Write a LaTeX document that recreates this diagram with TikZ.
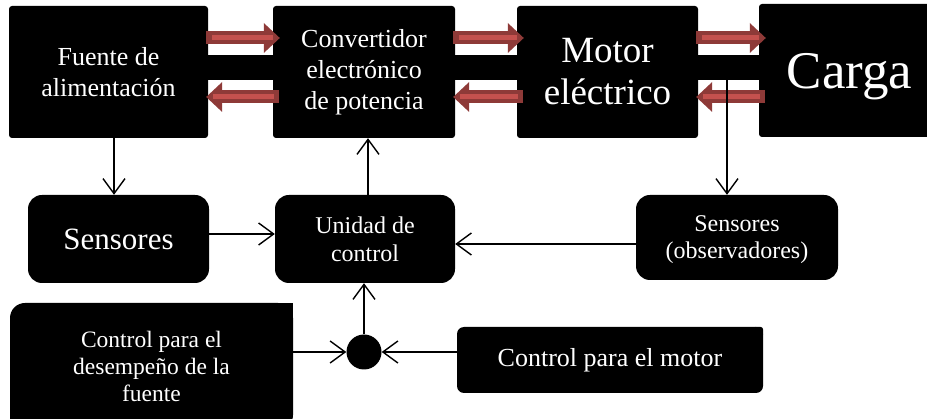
\documentclass[tikz,border=0pt]{standalone}
\usepackage{fontspec}
\setmainfont{Liberation Serif}
\usetikzlibrary{arrows.meta, positioning}
\definecolor{rojooscuro}{HTML}{8E3A38}
\definecolor{rojoclaro}{HTML}{C4514E}

\begin{document}
\begin{tikzpicture}[x=1pt, y=1pt,
        caja/.style 2 args={fill=black, text=white, rounded corners=3pt, align=center,
                    inner sep=0pt, minimum width=#1, minimum height=#2},
        letra/.style 2 args={font=\fontsize{#1}{#2}\selectfont},
        flecha/.style={line width=1.4pt, -{Straight Barb[length=15pt, width=22pt]}},
        cuerpo/.style={line width=13pt, rojooscuro},
        franja/.style={line width=5pt, rojoclaro}
    ]
        \useasboundingbox (0,0) rectangle (927,-419);

        % bloques de potencia
        \node[caja={199pt}{132pt}, letra={26}{31}] (fuente) at (108.5,-72) {Fuente de\\alimentación};
        \node[caja={182pt}{132pt}, letra={26}{31}] (conv)   at (364,-72)   {Convertidor\\electrónico\\de potencia};
        \node[caja={181pt}{132pt}, letra={37}{42}] (motor)  at (607.5,-72) {Motor\\eléctrico};
        \node[caja={181pt}{133pt}, letra={53}{60}, text depth=0pt] (carga) at (849.5,-70.5) {Carga};

        % bloques de control
        \node[caja={181pt}{88pt}, rounded corners=14pt, letra={31}{36}] (sens)   at (118.5,-239) {Sensores};
        \node[caja={180pt}{88pt}, rounded corners=14pt, letra={24}{28}] (unidad) at (365,-239)   {Unidad de\\control};
        \node[caja={202pt}{85pt}, rounded corners=14pt, letra={24}{27}, text depth=0pt] (sensobs) at (737,-237.5) {Sensores\\(observadores)};
        \node[caja={283pt}{127pt}, rounded corners=15pt, letra={23.5}{27}] (desemp) at (151.5,-366.5) {Control para el\\desempeño de la\\fuente};
        \node[caja={306pt}{66pt}, rounded corners=7pt, letra={26}{31}] (motorctl) at (610,-360) {Control para el motor};
        \node[circle, fill=black, minimum size=35pt, inner sep=0pt] (nodo) at (364,-352) {};
        \fill (desemp.north east) rectangle ++(-15,-15);
        \fill (desemp.south west) rectangle ++(15,15);
        \fill[rounded corners=3pt] (motorctl.north east) -- ++(0,-10) -- ++(-10,0) -- ++(0,10) -- cycle;

        % flujo de potencia
        \foreach \a/\b in {fuente/conv, conv/motor, motor/carga} {
            \draw[line width=25pt] ([yshift=4.5pt]\a.east) -- ([yshift=4.5pt]\a.east -| \b.west);
            % hacia la derecha
            \coordinate (ini) at ([yshift=34pt, xshift=-2pt]\a.east);
            \coordinate (fin) at ([xshift=7pt]ini -| \b.west);
            \draw[cuerpo] (ini) -- ([xshift=-15pt]fin);
            \fill[rojooscuro] (fin) -- ++(-16,15) -- ++(0,-30) -- cycle;
            \draw[franja] ([xshift=6pt]ini) -- ([xshift=-7pt]fin);
            % hacia la izquierda
            \coordinate (ini) at ([yshift=-25pt]\a.east -| \b.west);
            \coordinate (ini) at ([xshift=6pt]ini);
            \coordinate (fin) at ([yshift=-25pt, xshift=-2pt]\a.east);
            \draw[cuerpo] (ini) -- ([xshift=15pt]fin);
            \fill[rojooscuro] (fin) -- ++(16,15) -- ++(0,-30) -- cycle;
            \draw[franja] ([xshift=-5pt]ini) -- ([xshift=7pt]fin);
        }

        % senales
        \coordinate (banda) at (727,-80);
        \draw[flecha] ([xshift=5.5pt]fuente.south) -- ([xshift=5.5pt]fuente.south |- sens.north);
        \draw[flecha] (banda) -- (banda |- sensobs.north);
        \draw[flecha] ([yshift=5pt]sens.east) -- ([yshift=5pt]sens.east -| unidad.west);
        \draw[flecha] ([yshift=-6.5pt]sensobs.west) -- ([yshift=-6.5pt]sensobs.west -| unidad.east);
        \draw[flecha] ([xshift=3pt]unidad.north) -- ([xshift=3pt]unidad.north |- conv.south);
        \draw[flecha] (nodo) -- (nodo |- unidad.south);
        \draw[flecha] (desemp.east |- nodo) -- (nodo.west);
        \draw[flecha] (motorctl.west |- nodo) -- (nodo.east);
    \end{tikzpicture}
\end{document}
